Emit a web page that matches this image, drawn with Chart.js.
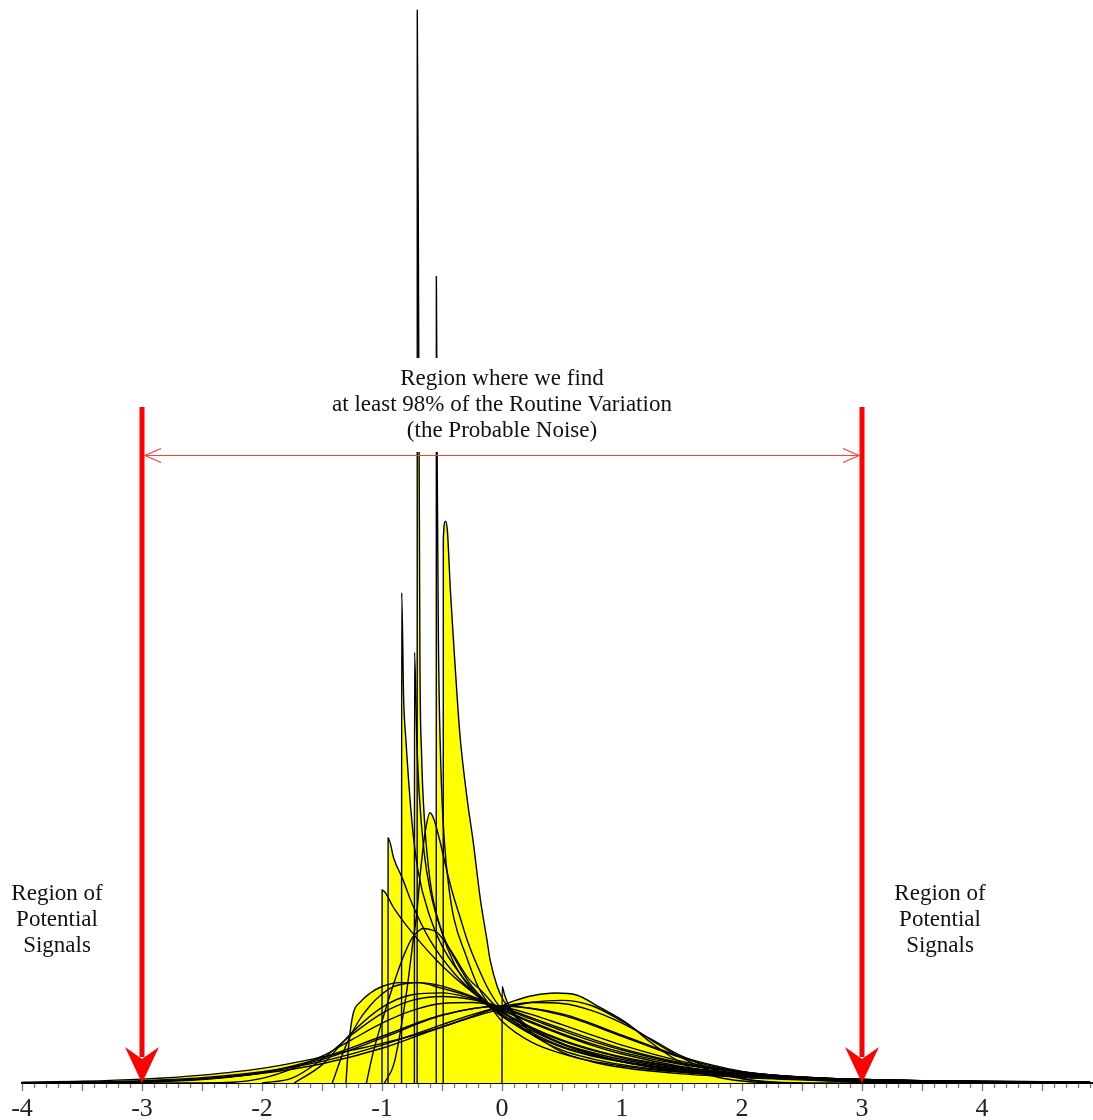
<!DOCTYPE html>
<html>
<head>
<meta charset="utf-8">
<title>Probability models and the 98% region</title>
<script src="https://cdn.jsdelivr.net/npm/chart.js@4.4.1/dist/chart.umd.min.js"></script>
<style>
  html, body { margin: 0; padding: 0; background: #fff; }
  #wrap { width: 1093px; height: 1120px; position: relative; }
</style>
</head>
<body>
<div id="wrap"><canvas id="modelsChart"></canvas></div>
<script>
// standardized density curves as [z, density] pairs
const spikeA = [[-0.707,0],[-0.706,5.56],[-0.695,4.0],[-0.684,2.2],[-0.67,1.7],[-0.65,1.4],[-0.6,1.05],[-0.5,0.78],[-0.4,0.62],[-0.25,0.48],[-0.1,0.39],[0,0.345],[0.25,0.25],[0.5,0.185],[0.75,0.14],[1,0.11],[1.5,0.066],[2,0.043],[2.5,0.028],[3,0.018],[3.5,0.012],[4,0.008],[4.5,0.0055],[4.9,0.004]];
const spikeB = [[-0.548,0],[-0.547,4.18],[-0.54,3.2],[-0.53,2.3],[-0.51,1.65],[-0.48,1.25],[-0.44,1.0],[-0.4,0.85],[-0.3,0.66],[-0.2,0.5],[-0.1,0.4],[0,0.32],[0.25,0.21],[0.5,0.152],[0.75,0.113],[1,0.088],[1.5,0.055],[2,0.036],[2.5,0.025],[3,0.0165],[3.5,0.0115],[4,0.008],[4.5,0.0058],[4.9,0.0043]];
const peakW = [[-0.49,0],[-0.489,2.82],[-0.47,2.91],[-0.455,2.86],[-0.43,2.55],[-0.4,2.25],[-0.35,1.8],[-0.29,1.47],[-0.24,1.25],[-0.18,0.95],[-0.125,0.74],[-0.1,0.64],[-0.04,0.5],[0.01,0.43],[0.1,0.35],[0.25,0.26],[0.5,0.16],[0.75,0.11],[1,0.08],[1.5,0.047],[2,0.03],[2.5,0.02],[3,0.013],[3.5,0.009],[4,0.0065],[4.5,0.0048],[4.9,0.0037]];
const spikeC = [[-0.837,0],[-0.836,2.54],[-0.82,2.0],[-0.8,1.77],[-0.75,1.35],[-0.7,1.1],[-0.6,0.86],[-0.5,0.71],[-0.25,0.49],[0,0.356],[0.25,0.27],[0.5,0.204],[0.75,0.158],[1,0.122],[1.5,0.075],[2,0.046],[2.5,0.029],[3,0.018],[3.5,0.0115],[4,0.0074],[4.9,0.0033]];
const spikeD = [[-0.73,0],[-0.729,2.23],[-0.71,1.78],[-0.69,1.5],[-0.65,1.2],[-0.6,1.0],[-0.5,0.78],[-0.4,0.65],[-0.25,0.5],[0,0.35],[0.25,0.26],[0.5,0.19],[0.75,0.145],[1,0.113],[1.5,0.07],[2,0.044],[2.5,0.028],[3,0.018],[3.5,0.012],[4,0.0077],[4.9,0.0036]];
const spikeE = [[-0.95,0],[-0.949,1.27],[-0.9,1.16],[-0.83,1.06],[-0.75,0.93],[-0.6,0.74],[-0.4,0.57],[-0.2,0.45],[0,0.365],[0.25,0.285],[0.5,0.218],[1,0.131],[1.5,0.08],[2,0.049],[2.5,0.03],[3,0.018],[3.5,0.011],[4,0.007],[4.9,0.003]];
const expo = [[-1,0],[-0.999,1.0],[-0.9,0.905],[-0.75,0.78],[-0.5,0.607],[-0.25,0.472],[0,0.368],[0.25,0.287],[0.5,0.223],[0.75,0.174],[1,0.135],[1.5,0.082],[2,0.05],[2.5,0.03],[3,0.018],[3.5,0.011],[4,0.0067],[4.9,0.0027]];
const edgeZero = [[0,0],[0.001,0.5],[0.02,0.46],[0.05,0.41],[0.1,0.36],[0.25,0.28],[0.5,0.2],[0.75,0.15],[1,0.11],[1.5,0.065],[2,0.04],[2.5,0.025],[3,0.016],[3.5,0.01],[4,0.0065],[4.9,0.003]];
const humpTall = [[-0.98,0],[-0.9,0.1],[-0.8,0.45],[-0.74,0.74],[-0.71,0.88],[-0.68,1.09],[-0.64,1.3],[-0.6,1.4],[-0.57,1.37],[-0.52,1.26],[-0.46,1.1],[-0.41,0.98],[-0.35,0.86],[-0.29,0.74],[-0.2,0.6],[-0.1,0.47],[0,0.38],[0.25,0.25],[0.5,0.17],[0.75,0.125],[1,0.095],[1.5,0.058],[2,0.037],[2.5,0.025],[3,0.017],[3.5,0.012],[4,0.009],[4.5,0.007],[4.9,0.0055]];
const humpMid = [[-1.13,0],[-1.075,0.155],[-0.99,0.34],[-0.91,0.5],[-0.825,0.65],[-0.75,0.75],[-0.69,0.79],[-0.66,0.8],[-0.6,0.795],[-0.54,0.78],[-0.43,0.69],[-0.29,0.55],[-0.16,0.47],[-0.04,0.39],[0.1,0.33],[0.25,0.28],[0.5,0.205],[0.75,0.15],[1,0.11],[1.5,0.058],[2,0.03],[2.5,0.016],[3,0.0085],[3.5,0.0045],[4,0.0025],[4.9,0.0008]];
const humpWide = [[-1.3,0],[-1.29,0.1],[-1.27,0.24],[-1.24,0.36],[-1.18,0.42],[-1.1,0.465],[-1.0,0.5],[-0.85,0.52],[-0.7,0.52],[-0.5,0.49],[-0.3,0.455],[-0.1,0.4],[0,0.375],[0.25,0.31],[0.5,0.25],[0.75,0.195],[1,0.15],[1.5,0.085],[2,0.045],[2.5,0.022],[3,0.01],[3.5,0.0045],[4,0.002],[4.9,0.0005]];
const gammaTwo = [[-1.414,0],[-1.3,0.195],[-1.2,0.316],[-1.1,0.4],[-1.0,0.461],[-0.9,0.5],[-0.8,0.515],[-0.7,0.52],[-0.6,0.515],[-0.5,0.502],[-0.25,0.449],[0,0.383],[0.25,0.316],[0.5,0.255],[0.75,0.203],[1,0.159],[1.5,0.095],[2,0.055],[2.5,0.031],[3,0.017],[3.5,0.0094],[4,0.0051],[4.5,0.0028],[4.9,0.0017]];
const gammaThree = [[-1.732,0],[-1.5,0.094],[-1.25,0.262],[-1,0.392],[-0.75,0.457],[-0.5,0.467],[-0.25,0.438],[0,0.388],[0.25,0.33],[0.5,0.271],[0.75,0.217],[1,0.171],[1.5,0.1],[2,0.0565],[2.5,0.0305],[3,0.016],[3.5,0.0082],[4,0.0042],[4.9,0.0013]];
const gammaFour = [[-2,0],[-1.75,0.025],[-1.5,0.123],[-1.25,0.251],[-1,0.361],[-0.75,0.428],[-0.5,0.448],[-0.25,0.432],[0,0.391],[0.25,0.337],[0.5,0.281],[0.75,0.227],[1,0.178],[1.5,0.104],[2,0.057],[2.5,0.03],[3,0.015],[3.5,0.0074],[4,0.0035],[4.9,0.0008]];
const gammaNine = [[-3,0],[-2.5,0.0004],[-2,0.024],[-1.5,0.139],[-1.25,0.225],[-1,0.31],[-0.75,0.375],[-0.5,0.412],[-0.25,0.417],[0,0.395],[0.25,0.354],[0.5,0.302],[0.75,0.248],[1,0.196],[1.5,0.112],[2,0.058],[2.5,0.028],[3,0.0125],[3.5,0.0053],[4,0.0021],[4.9,0.0003]];
const nearNormal = [[-4,0.0005],[-3.5,0.0015],[-3,0.006],[-2.5,0.02],[-2,0.052],[-1.5,0.122],[-1,0.232],[-0.5,0.35],[0,0.398],[0.5,0.358],[1,0.248],[1.5,0.135],[2,0.06],[2.5,0.022],[3,0.007],[3.5,0.002],[4,0.0005]];
const normal = [[-4,0.0001],[-3.5,0.0009],[-3,0.0044],[-2.5,0.0175],[-2,0.054],[-1.5,0.13],[-1,0.242],[-0.5,0.352],[0,0.399],[0.5,0.352],[1,0.242],[1.5,0.13],[2,0.054],[2.5,0.0175],[3,0.0044],[3.5,0.0009],[4,0.0001]];
const leftNine = [[-4.9,0.0003],[-4,0.0021],[-3.5,0.0053],[-3,0.0125],[-2.5,0.028],[-2,0.058],[-1.5,0.112],[-1,0.196],[-0.75,0.248],[-0.5,0.302],[-0.25,0.354],[0,0.395],[0.25,0.417],[0.5,0.412],[0.75,0.375],[1,0.31],[1.25,0.225],[1.5,0.139],[2,0.024],[2.5,0.0004],[3,0]];
const leftLong = [[-4,0.004],[-3.5,0.009],[-3,0.02],[-2.5,0.041],[-2,0.076],[-1.5,0.135],[-1.25,0.17],[-1,0.205],[-0.75,0.245],[-0.5,0.29],[-0.25,0.345],[0,0.4],[0.1,0.425],[0.25,0.452],[0.45,0.466],[0.62,0.456],[0.82,0.39],[1.04,0.31],[1.23,0.215],[1.4,0.14],[1.6,0.07],[1.8,0.03],[2,0.01],[2.2,0.002],[2.3,0]];
const leftMild = [[-4,0.001],[-3.5,0.003],[-3,0.008],[-2.5,0.022],[-2,0.05],[-1.5,0.1],[-1,0.18],[-0.5,0.29],[0,0.385],[0.25,0.418],[0.5,0.428],[0.75,0.4],[1,0.32],[1.25,0.22],[1.5,0.13],[1.75,0.06],[2,0.022],[2.25,0.005],[2.5,0]];

const curves = [leftLong, leftMild, leftNine, normal, nearNormal, gammaNine, gammaFour, gammaThree, gammaTwo,
  humpWide, humpMid, humpTall, expo, spikeE, spikeC, spikeD, spikeA, spikeB, peakW, edgeZero];

const tickLabels = ['-4', '-3', '-2', '-1', '0', '1', '2', '3', '4'];
const tickValues = [-4, -3, -2, -1, 0, 1, 2, 3, 4];
const signalLimits = [-3, 3];

const noiseText = ['Region where we find', 'at least 98% of the Routine Variation', '(the Probable Noise)'];
const signalText = ['Region of', 'Potential', 'Signals'];

const serif = '"Liberation Serif", "DejaVu Serif", serif';

// minor ticks every 0.1, longer ones every 0.5, drawn under the axis
const axisTicks = {
  id: 'axisTicks',
  afterDraw(chart) {
    const { ctx, scales: { x }, chartArea } = chart;
    ctx.save();
    ctx.strokeStyle = '#777';
    ctx.lineWidth = 1.3;
    for (let i = -40; i <= 49; i++) {
      const px = Math.round(x.getPixelForValue(i / 10)) + 0.5;
      const len = i % 5 === 0 ? 7 : 4;
      ctx.beginPath();
      ctx.moveTo(px, chartArea.bottom + 1);
      ctx.lineTo(px, chartArea.bottom + 1 + len);
      ctx.stroke();
    }
    ctx.restore();
  }
};

const notes = {
  id: 'notes',
  afterDatasetsDraw(chart) {
    const { ctx, scales: { x }, chartArea } = chart;
    const base = chartArea.bottom;
    const left = x.getPixelForValue(signalLimits[0]);
    const right = x.getPixelForValue(signalLimits[1]);
    const cx = x.getPixelForValue(0);
    ctx.save();

    // white box behind the centre text hides the spikes there
    ctx.fillStyle = '#fff';
    ctx.fillRect(cx - 178, 358, 356, 94);

    // thick red arrows at the limits
    ctx.fillStyle = '#ff0000';
    ctx.strokeStyle = '#ff0000';
    [left, right].forEach(px => {
      ctx.lineWidth = 5;
      ctx.beginPath();
      ctx.moveTo(px, 407);
      ctx.lineTo(px, base - 26);
      ctx.stroke();
      ctx.beginPath();
      ctx.moveTo(px, base);
      ctx.lineTo(px - 17, base - 36);
      ctx.lineTo(px, base - 24);
      ctx.lineTo(px + 17, base - 36);
      ctx.closePath();
      ctx.fill();
    });

    // thin double-headed arrow between the limits
    const y = 455.5;
    ctx.strokeStyle = '#ff3c3c';
    ctx.lineWidth = 1.2;
    ctx.beginPath();
    ctx.moveTo(left + 3, y);
    ctx.lineTo(right - 3, y);
    ctx.moveTo(left + 19, y - 7);
    ctx.lineTo(left + 3, y);
    ctx.lineTo(left + 19, y + 7);
    ctx.moveTo(right - 19, y - 7);
    ctx.lineTo(right - 3, y);
    ctx.lineTo(right - 19, y + 7);
    ctx.stroke();

    // text
    ctx.fillStyle = '#111';
    ctx.font = '23px ' + serif;
    ctx.textAlign = 'center';
    ctx.textBaseline = 'alphabetic';
    noiseText.forEach((t, i) => ctx.fillText(t, cx, 385 + i * 26));
    signalText.forEach((t, i) => {
      ctx.fillText(t, 57, 900 + i * 26);
      ctx.fillText(t, 940, 900 + i * 26);
    });
    ctx.restore();
  }
};

const datasets = curves.map(c => ({
  data: c.map(([x, y]) => ({ x, y })),
  borderColor: '#000',
  borderWidth: 1.4,
  backgroundColor: '#ffff00',
  fill: 'origin',
  pointRadius: 0,
  cubicInterpolationMode: 'monotone'
}));

new Chart(document.getElementById('modelsChart'), {
  type: 'line',
  data: { datasets },
  options: {
    responsive: true,
    maintainAspectRatio: false,
    animation: false,
    events: [],
    layout: { padding: { left: 22, right: 0, top: 0, bottom: 0 } },
    plugins: {
      legend: { display: false },
      tooltip: { enabled: false },
      filler: { drawTime: 'beforeDatasetsDraw' }
    },
    scales: {
      x: {
        type: 'linear',
        min: -4,
        max: 4.925,
        afterBuildTicks: scale => { scale.ticks = tickValues.map(v => ({ value: v })); },
        afterFit: scale => { scale.height = 37; },
        ticks: {
          padding: 11,
          maxRotation: 0,
          color: '#222',
          font: { family: serif, size: 26 },
          callback: value => tickLabels[tickValues.indexOf(value)]
        },
        grid: { display: false, drawTicks: false },
        border: { display: true, color: '#000', width: 2 }
      },
      y: {
        display: false,
        min: 0,
        max: 5.61
      }
    }
  },
  plugins: [axisTicks, notes]
});
</script>
</body>
</html>
